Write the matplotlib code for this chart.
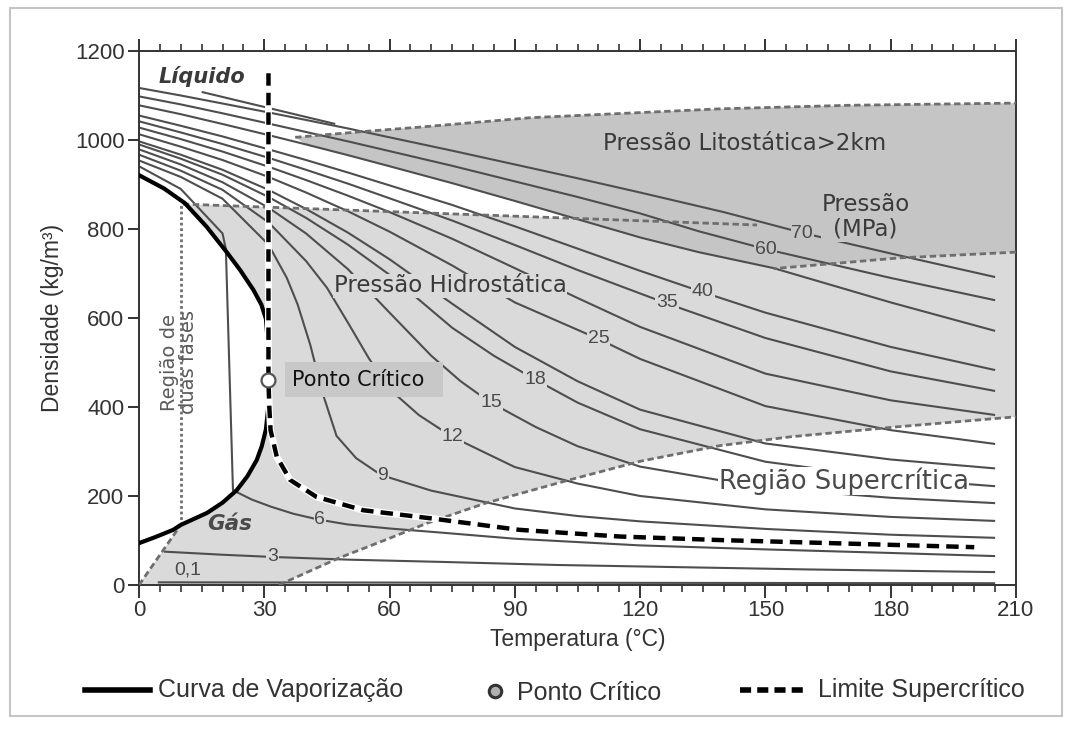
import numpy as np
import matplotlib
matplotlib.use("Agg")
import matplotlib.pyplot as plt
from matplotlib.patches import Polygon, Rectangle
from matplotlib.lines import Line2D

# ---- data (temperature in C, density in kg/m3) ----
# vaporization curve (liquid branch and gas branch)
liq_T = [0, 6, 11, 16.2, 21, 24.2, 27.4, 29.3, 30.4, 30.9, 31]
liq_rho = [921, 891, 858, 805, 748, 708, 663, 630, 598, 540, 461]
gas_T = [31, 30.9, 30.4, 29.4, 28.2, 26, 23.4, 20, 16.3, 10, 8.2, 4, 0]
gas_rho = [461, 395, 350, 312, 281, 245, 213, 185, 162, 135, 124, 108, 94]

# supercritical limit (vertical part + critical isobar)
lim_T = [31, 31, 31.2, 31.5, 33, 36.2, 42.5, 53.7, 69.7, 91, 115, 139, 166, 200]
lim_rho = [1150, 461, 400, 348, 288, 236, 198, 168, 150, 124, 109, 101, 94, 85]

crit_T, crit_rho = 31, 461

# isobars (MPa)
p01_T = [4.5, 205]
p01_rho = [6, 4]
p3_T = [6, 20, 32, 50, 72, 100, 130, 160, 205]
p3_rho = [75, 68, 63, 57, 52, 45, 40, 35, 29]
p6_T = [0, 10, 20, 20.8, 22.5, 27, 31.6, 37, 43, 50, 60, 72, 90, 120, 150, 180, 205]
p6_rho = [941, 890, 790, 755, 213, 192, 176, 160, 147, 136, 127, 118, 104, 89, 80, 72, 65]
p9_T = [0, 10, 20, 31, 35.4, 38, 41, 44, 47.3, 52, 58, 70, 90, 105, 120, 150, 180, 205]
p9_rho = [954, 917, 868, 765, 690, 630, 540, 430, 335, 285, 247, 212, 172, 155, 143, 126, 113, 106]
p12_T = [0, 10, 20, 31, 40, 45, 50, 55, 60, 67, 75, 90, 105, 120, 150, 180, 205]
p12_rho = [967, 931, 888, 815, 728, 668, 590, 510, 440, 382, 333, 265, 228, 200, 170, 153, 144]
p15_T = [0, 10, 20, 31, 40, 50, 60, 70, 77, 84, 95, 105, 120, 150, 180, 205]
p15_rho = [979, 945, 905, 848, 790, 710, 612, 515, 458, 411, 355, 312, 266, 218, 196, 184]
p18_T = [0, 10, 20, 31, 40, 50, 60, 75, 85, 95, 105, 120, 150, 180, 205]
p18_rho = [990, 958, 922, 872, 825, 765, 697, 578, 515, 461, 410, 350, 277, 240, 222]
p20_T = [0, 10, 20, 31, 40, 50, 60, 75, 90, 105, 120, 150, 180, 205]
p20_rho = [997, 967, 933, 888, 845, 792, 732, 632, 535, 458, 394, 318, 282, 262]
p25_T = [0, 10, 20, 31, 40, 50, 60, 75, 90, 110, 120, 150, 180, 205]
p25_rho = [1013, 985, 955, 917, 882, 840, 794, 718, 635, 553, 508, 402, 348, 317]
p30_T = [0, 10, 20, 31, 40, 50, 60, 75, 90, 105, 120, 150, 180, 205]
p30_rho = [1028, 1002, 974, 940, 910, 875, 838, 778, 712, 645, 580, 475, 415, 382]
p35_T = [0, 10, 20, 31, 40, 50, 60, 75, 90, 105, 126, 150, 180, 205]
p35_rho = [1042, 1017, 991, 960, 933, 902, 869, 819, 764, 708, 634, 555, 480, 436]
p40_T = [0, 10, 20, 31, 40, 50, 60, 75, 90, 105, 120, 135, 150, 180, 205]
p40_rho = [1055, 1032, 1008, 979, 955, 927, 898, 854, 806, 756, 706, 658, 612, 535, 483]
p50_T = [0, 10, 20, 31, 40, 50, 60, 75, 90, 105, 120, 134, 152, 180, 205]
p50_rho = [1078, 1058, 1036, 1011, 990, 966, 941, 903, 863, 822, 781, 748, 712, 635, 571]
p60_T = [0, 10, 20, 31, 40, 50, 60, 75, 90, 105, 120, 134, 150, 180, 205]
p60_rho = [1098, 1080, 1060, 1037, 1018, 997, 975, 942, 907, 872, 835, 795, 755, 690, 640]
p70_T = [0, 10, 20, 31, 40, 50, 60, 75, 90, 105, 120, 140, 159, 180, 205]
p70_rho = [1117, 1100, 1082, 1062, 1045, 1026, 1006, 976, 945, 914, 882, 838, 791, 745, 692]
extra_T = [15, 47]
extra_rho = [1108, 1036]

isobars = [(p01_T, p01_rho), (p3_T, p3_rho), (p6_T, p6_rho), (p9_T, p9_rho),
           (p12_T, p12_rho), (p15_T, p15_rho), (p18_T, p18_rho), (p20_T, p20_rho),
           (p25_T, p25_rho), (p30_T, p30_rho), (p35_T, p35_rho), (p40_T, p40_rho),
           (p50_T, p50_rho), (p60_T, p60_rho), (p70_T, p70_rho), (extra_T, extra_rho)]

# isobar labels: text, T, rho
lab_txt = ["0,1", "3", "6", "9", "12", "15", "18", "25", "35", "40", "60", "70"]
lab_T = [11.7, 32, 43.3, 58.4, 75, 84.3, 94.8, 110, 126.4, 135, 150, 158.8]
lab_rho = [34, 65, 148, 247, 333, 411, 461, 553, 634, 659, 755, 789]

# region boundaries
hyd_top_T = [10.5, 148]
hyd_top_rho = [856, 809]
diag_T = [0, 10]
diag_rho = [0, 135]
sc_T = [33.5, 47.7, 60, 69, 83, 103, 120, 139, 156, 181, 210]
sc_rho = [0, 60, 105, 139, 184, 236, 278, 313, 333, 355, 378]
lit_top_T = [37.4, 53.6, 67.3, 93.6, 139, 170, 210]
lit_top_rho = [1006, 1019, 1029, 1050, 1070, 1078, 1083]
lit_low_T = [210, 182, 152]
lit_low_rho = [748, 735, 711]

# ---- figure ----
sans = ["Liberation Sans", "DejaVu Sans"]
wide = ["DejaVu Sans"]

fig = plt.figure(figsize=(10.77, 7.39), dpi=100)
fig.patch.set_facecolor("white")
ax = fig.add_axes([139/1077, 1-585/739, 877/1077, 534/739])

light = "#dadada"
dark = "#c5c5c5"

# hydrostatic region
gT, gR = np.array(gas_T), np.array(gas_rho)
lT, lR = np.array(liq_T), np.array(liq_rho)
gm = gT >= 10
lm = lT >= 10.5
hyd = [(0, 0), (diag_T[1], diag_rho[1])]
hyd += list(zip(gT[gm][::-1], gR[gm][::-1]))
hyd += list(zip(lT[lm][::-1], lR[lm][::-1]))
hyd += [(hyd_top_T[0], hyd_top_rho[0]), (hyd_top_T[1], hyd_top_rho[1])]
hyd += list(zip(lit_low_T[::-1], lit_low_rho[::-1]))
hyd += [(210, sc_rho[-1])]
hyd += list(zip(sc_T[::-1], sc_rho[::-1]))
ax.add_patch(Polygon(hyd, closed=True, facecolor=light, edgecolor="none", zorder=0))

# lithostatic region (lower edge follows the 50 MPa isobar)
p50T, p50R = np.array(p50_T), np.array(p50_rho)
m50 = (p50T > lit_top_T[0]) & (p50T < lit_low_T[-1])
lit = list(zip(lit_top_T, lit_top_rho)) + list(zip(lit_low_T, lit_low_rho))
lit += list(zip(p50T[m50][::-1], p50R[m50][::-1]))
ax.add_patch(Polygon(lit, closed=True, facecolor=dark, edgecolor="none", zorder=0.5))

# isobars
for T, r in isobars:
    ax.plot(T, r, color="#4e4e4e", lw=1.5, zorder=2, solid_capstyle="butt")

# boundary dashed lines
bkw = dict(color="#6e6e6e", lw=2, dashes=(2.3, 1.3), zorder=3)
ax.plot(hyd_top_T, hyd_top_rho, **bkw)
ax.plot(sc_T, sc_rho, **bkw)
ax.plot(lit_top_T, lit_top_rho, **bkw)
ax.plot(lit_low_T, lit_low_rho, **bkw)
ax.plot(diag_T, diag_rho, **bkw)
ax.plot([10, 10], [135, 856], color="#6e6e6e", lw=2, dashes=(1, 1), zorder=3)

# vaporization curve
ax.plot(liq_T + gas_T[1:], liq_rho + gas_rho[1:], color="black", lw=3, zorder=4,
        solid_joinstyle="round")

# supercritical limit
ax.plot(lim_T, lim_rho, color="white", lw=5, zorder=4.5)
ax.plot(lim_T, lim_rho, color="black", lw=3.2, dashes=(2.8, 1.6), zorder=5)

# critical point box + marker
ax.add_patch(Rectangle((35, 423), 37.8, 78, facecolor="#c8c8c8", edgecolor="none", zorder=6))
ax.text(36.6, 461, "Ponto Crítico", fontsize=15, family=wide,
        color="#111111", va="center", ha="left", zorder=7)
ax.plot([crit_T], [crit_rho], "o", ms=10, mfc="white", mec="#555555", mew=1.6, zorder=8)

# isobar labels
for t, x, y in zip(lab_txt, lab_T, lab_rho):
    bg = dark if y > 740 else light
    ax.text(x, y, t, fontsize=14, family=sans, color="#4a4a4a", ha="center", va="center",
            zorder=6, bbox=dict(facecolor=bg, edgecolor="none", pad=0.6))

# region texts
ax.text(15, 1142, "Líquido", fontsize=15, family=wide, style="italic", weight="bold",
        color="#3a3a3a", ha="center", va="center", zorder=6)
ax.text(21.8, 138, "Gás", fontsize=15.5, family=wide, style="italic", weight="bold",
        color="#4a4a4a", ha="center", va="center", zorder=6)
ax.text(145, 992, "Pressão Litostática>2km", fontsize=16.5, family=wide, color="#3a3a3a",
        ha="center", va="center", zorder=6)
ax.text(174, 827, "Pressão\n(MPa)", fontsize=16.5, family=wide, color="#3a3a3a",
        ha="center", va="center", linespacing=1.1, zorder=6,
        bbox=dict(facecolor=dark, edgecolor="none", pad=0.5))
ax.text(74.5, 672, "Pressão Hidrostática", fontsize=16.5, family=wide, color="#3a3a3a",
        ha="center", va="center", zorder=6, bbox=dict(facecolor=light, edgecolor="none", pad=0.3))
ax.text(168.8, 234, "Região Supercrítica", fontsize=18.5, family=wide, color="#4a4a4a",
        ha="center", va="center", zorder=6, bbox=dict(facecolor="white", edgecolor="none", pad=0.3))
ax.text(9.6, 501, "Região de\nduas fases", fontsize=14, family=wide, color="#5a5a5a",
        rotation=90, ha="center", va="center", linespacing=0.95, zorder=6)

# axes
ax.set_xlim(0, 210)
ax.set_ylim(0, 1200)
ax.set_xticks(np.arange(0, 211, 30))
ax.set_xticks(np.arange(0, 211, 5), minor=True)
ax.set_yticks(np.arange(0, 1201, 200))
ax.tick_params(axis="x", which="major", direction="out", length=9, width=1.4,
               top=True, labelsize=16, pad=2, color="#333333")
ax.tick_params(axis="x", which="minor", direction="out", length=5, width=1.2,
               top=True, color="#333333")
ax.tick_params(axis="y", which="major", direction="out", length=8, width=1.4,
               labelsize=16, pad=2.5, color="#333333")
for lbl in ax.get_xticklabels() + ax.get_yticklabels():
    lbl.set_family(sans)
    lbl.set_color("#333333")
for s in ax.spines.values():
    s.set_linewidth(1.4)
    s.set_color("#333333")
ax.set_xlabel("Temperatura (°C)", fontsize=16.5, family=sans, color="#333333", labelpad=5)
ax.set_ylabel("Densidade (kg/m³)", fontsize=16.5, family=sans, color="#333333", labelpad=8)

# legend drawn by hand under the plot
ly = 1 - 690/739
fig.add_artist(Line2D([85/1077, 150/1077], [ly, ly], color="black", lw=4))
fig.text(158/1077, ly, "Curva de Vaporização", fontsize=18, family=sans,
         color="#333333", va="center", ha="left")
fig.add_artist(Line2D([495/1077], [ly - 0.002], marker="o", ms=9, mfc="#b0b0b0",
                      mec="#333333", mew=2.2, ls="none"))
fig.text(517/1077, ly - 0.004, "Ponto Crítico", fontsize=18, family=sans,
         color="#333333", va="center", ha="left")
fig.add_artist(Line2D([740/1077, 805/1077], [ly, ly], color="black", lw=4,
                      dashes=(2.0, 1.1)))
fig.text(818/1077, ly, "Limite Supercrítico", fontsize=18, family=sans,
         color="#333333", va="center", ha="left")

# outer frame
fig.add_artist(Rectangle((10/1077, 1-716/739), 1052/1077, 708/739, transform=fig.transFigure,
                         facecolor="none", edgecolor="#c4c4c4", lw=1.5))

fig.savefig("out.png", dpi=100)
